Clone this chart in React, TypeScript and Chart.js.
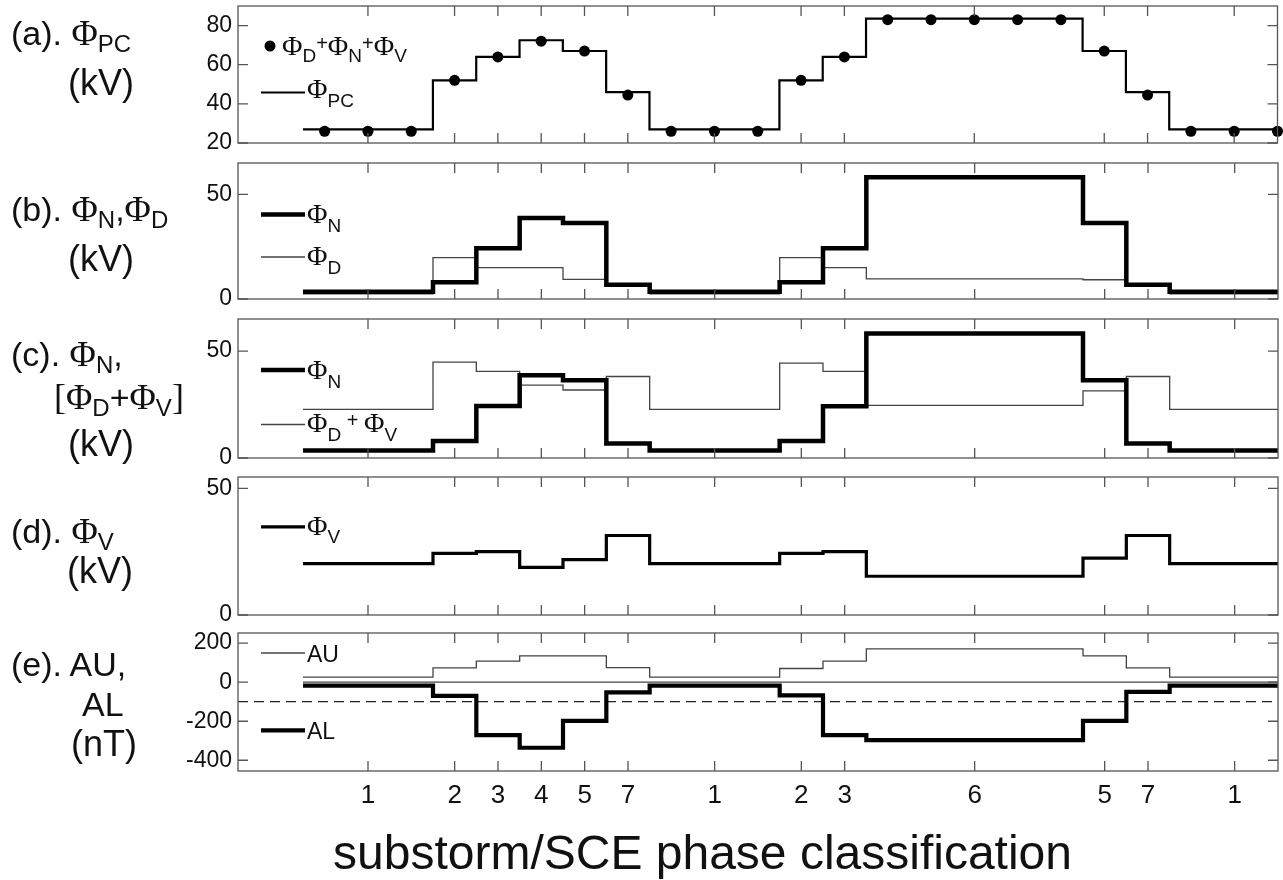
import React, { useEffect, useRef } from "react";
import { Chart, registerables } from "chart.js";
Chart.register(...registerables);

// ---------------- data ----------------
const X_MIN = -2;
const X_MAX = 22;

const phaseTickPositions = [1, 3, 4, 5, 6, 7, 9, 11, 12, 15, 18, 19, 21];
const phaseTickLabels = ["1", "2", "3", "4", "5", "7", "1", "2", "3", "6", "5", "7", "1"];

const phiPC = [27, 27, 27, 52, 64, 72.5, 67, 46, 27, 27, 27, 52, 64, 83.5, 83.5, 83.5, 83.5, 83.5, 67, 46, 27, 27, 27];
const phiSum = [26, 26, 26, 52, 64, 72, 67, 44.5, 26, 26, 26, 52, 64, 83, 83, 83, 83, 83, 67, 44.5, 26, 26, 26];
const phiN = [3.5, 3.5, 3.5, 8, 24.3, 38.7, 36.3, 6.8, 3.5, 3.5, 3.5, 8, 24.2, 58.2, 58.2, 58.2, 58.2, 58.2, 36.3, 6.8, 3.5, 3.5, 3.5];
const phiD = [2.5, 2.5, 2.5, 19.8, 15, 15, 9.4, 6.4, 2.5, 2.5, 2.5, 19.8, 15, 9.6, 9.6, 9.6, 9.6, 9.6, 9.2, 6.5, 2.5, 2.5, 2.5];
const phiDV = [22.7, 22.7, 22.7, 44.8, 40.5, 34.1, 31.8, 38.1, 22.7, 22.7, 22.7, 44.4, 40.5, 24.6, 24.6, 24.6, 24.6, 24.6, 31.4, 38.1, 22.7, 22.7, 22.7];
const phiV = [20.3, 20.3, 20.3, 24.3, 25, 18.8, 21.9, 31.4, 20.3, 20.3, 20.3, 24.3, 25, 15.3, 15.3, 15.3, 15.3, 15.3, 22.5, 31.4, 20.3, 20.3, 20.3];
const AU = [26, 26, 26, 73.5, 108, 135, 135, 75, 26, 26, 26, 70, 108, 171, 171, 171, 171, 171, 135, 73.5, 26, 26, 26];
const AL = [-18, -18, -18, -70, -271, -336, -198, -52, -18, -18, -18, -68, -271, -297, -297, -297, -297, -297, -198, -50, -18, -18, -18];
const AE_ZERO = 0;
const AL_THRESHOLD = -100;

const yTicksA = [20, 40, 60, 80];
const yTicksB = [0, 50];
const yTicksC = [0, 50];
const yTicksD = [0, 50];
const yTicksE = [-400, -200, 0, 200];

// ---------------- layout ----------------
const PAGE_W = 1283;
const PAGE_H = 880;
const PLOT_LEFT = 238;
const PLOT_RIGHT = 1278;
const PAD_TOP = 25;

const SANS = '"Liberation Sans", Arial, Helvetica, sans-serif';
const SERIF = '"Liberation Serif", "Times New Roman", serif';
const BOX_COLOR = "#555";
const THIN_COLOR = "#444";

const stepPoints = (arr: number[]) => [{ x: -0.5, y: arr[0] }, ...arr.map((y, i) => ({ x: i, y }))];
const dotPoints = (arr: number[]) => arr.map((y, i) => ({ x: i, y }));
const hLine = (y: number, x0: number, x1: number) => [{ x: x0, y }, { x: x1, y }];

const thick = (data: any[], w = 4.5) => ({ data, stepped: "middle", borderColor: "#000", borderWidth: w, pointRadius: 0, fill: false, clip: 6 });
const thin = (data: any[]) => ({ data, stepped: "middle", borderColor: THIN_COLOR, borderWidth: 1.3, pointRadius: 0, fill: false, clip: 6 });

type Run = { t: string; font: string; fs: number; cy: number };
type LegendItem = { marker: "dot" | "line"; mx0: number; mx1: number; my: number; mw: number; tx: number; runs: Run[] };

const PHI = (cy: number): Run => ({ t: "Φ", font: SERIF, fs: 28, cy });
const SUB = (t: string, cy: number): Run => ({ t, font: SANS, fs: 19, cy });
const TXT = (t: string, cy: number, fs = 20): Run => ({ t, font: SANS, fs, cy });

type PanelSpec = {
  key: string; top: number; bottom: number; yMin: number; yMax: number; yTicks: number[];
  showX: boolean; datasets: any[]; legend: LegendItem[];
};

const panels: PanelSpec[] = [
  {
    key: "a", top: 6, bottom: 143, yMin: 20, yMax: 90, yTicks: yTicksA, showX: false,
    datasets: [
      { data: dotPoints(phiSum), showLine: false, pointRadius: 5.5, pointBackgroundColor: "#000", pointBorderWidth: 0, clip: false },
      { data: stepPoints(phiPC), stepped: "middle", borderColor: "#000", borderWidth: 2.2, pointRadius: 0, fill: false, clip: 6 },
    ],
    legend: [
      { marker: "dot", mx0: 270, mx1: 270, my: 40, mw: 5.5, tx: 282,
        runs: [PHI(39), SUB("D", 49), TXT("+", 36.5), PHI(39), SUB("N", 49), TXT("+", 36.5), PHI(39), SUB("V", 49)] },
      { marker: "line", mx0: 261, mx1: 305, my: 86.5, mw: 2.2, tx: 307, runs: [PHI(82), SUB("PC", 94)] },
    ],
  },
  {
    key: "b", top: 163, bottom: 299, yMin: 0, yMax: 65, yTicks: yTicksB, showX: false,
    datasets: [thick(stepPoints(phiN)), thin(stepPoints(phiD))],
    legend: [
      { marker: "line", mx0: 261, mx1: 305, my: 51.4, mw: 4.5, tx: 307, runs: [PHI(50), SUB("N", 62)] },
      { marker: "line", mx0: 261, mx1: 305, my: 94, mw: 1.3, tx: 307, runs: [PHI(92), SUB("D", 104)] },
    ],
  },
  {
    key: "c", top: 319, bottom: 458, yMin: 0, yMax: 65, yTicks: yTicksC, showX: false,
    datasets: [thick(stepPoints(phiN)), thin(stepPoints(phiDV))],
    legend: [
      { marker: "line", mx0: 261, mx1: 305, my: 51, mw: 4.5, tx: 307, runs: [PHI(50), SUB("N", 62)] },
      { marker: "line", mx0: 261, mx1: 305, my: 105.5, mw: 1.3, tx: 307,
        runs: [PHI(103), SUB("D", 115), TXT(" + ", 101), PHI(103), SUB("V", 115)] },
    ],
  },
  {
    key: "d", top: 477, bottom: 615, yMin: 0, yMax: 54.5, yTicks: yTicksD, showX: false,
    datasets: [thick(stepPoints(phiV), 3.2)],
    legend: [
      { marker: "line", mx0: 261, mx1: 305, my: 49.8, mw: 3.2, tx: 307, runs: [PHI(48), SUB("V", 59)] },
    ],
  },
  {
    key: "e", top: 633, bottom: 771, yMin: -455, yMax: 252, yTicks: yTicksE, showX: true,
    datasets: [
      thick(stepPoints(AL), 4.2),
      thin(stepPoints(AU)),
      { data: hLine(AE_ZERO, -0.5, X_MAX), borderColor: THIN_COLOR, borderWidth: 1.3, pointRadius: 0, fill: false },
      { data: hLine(AL_THRESHOLD, X_MIN, X_MAX), borderColor: "#222", borderWidth: 1.3, borderDash: [10, 6], pointRadius: 0, fill: false },
    ],
    legend: [
      { marker: "line", mx0: 261, mx1: 305, my: 20, mw: 1.3, tx: 307, runs: [TXT("AU", 21, 23)] },
      { marker: "line", mx0: 261, mx1: 305, my: 97.4, mw: 4.2, tx: 307, runs: [TXT("AL", 98, 23)] },
    ],
  },
];

// ---------------- plugins ----------------
const boxPlugin = {
  id: "matlabBox",
  afterDraw(chart: any) {
    const { ctx, chartArea: a, scales } = chart;
    const xs = scales.x, ys = scales.y;
    const L = 10;
    ctx.save();
    ctx.strokeStyle = BOX_COLOR;
    ctx.lineWidth = 1.3;
    ctx.strokeRect(a.left, a.top, a.right - a.left, a.bottom - a.top);
    ctx.beginPath();
    xs.ticks.forEach((t: any) => {
      const px = xs.getPixelForValue(t.value);
      ctx.moveTo(px, a.top); ctx.lineTo(px, a.top + L);
      ctx.moveTo(px, a.bottom); ctx.lineTo(px, a.bottom - L);
    });
    ys.ticks.forEach((t: any) => {
      const py = ys.getPixelForValue(t.value);
      ctx.moveTo(a.left, py); ctx.lineTo(a.left + L, py);
      ctx.moveTo(a.right, py); ctx.lineTo(a.right - L, py);
    });
    ctx.stroke();
    ctx.restore();
  },
};

const makeLegendPlugin = (items: LegendItem[]) => ({
  id: "panelLegend",
  afterDraw(chart: any) {
    const { ctx, chartArea: a } = chart;
    ctx.save();
    items.forEach((it) => {
      const my = a.top + it.my;
      if (it.marker === "dot") {
        ctx.fillStyle = "#000";
        ctx.beginPath();
        ctx.arc(it.mx0, my, it.mw, 0, Math.PI * 2);
        ctx.fill();
      } else {
        ctx.strokeStyle = it.mw > 2 ? "#000" : THIN_COLOR;
        ctx.lineWidth = it.mw;
        ctx.beginPath();
        ctx.moveTo(it.mx0, my);
        ctx.lineTo(it.mx1, my);
        ctx.stroke();
      }
      let x = it.tx;
      ctx.fillStyle = "#111";
      ctx.textBaseline = "alphabetic";
      ctx.textAlign = "left";
      it.runs.forEach((r) => {
        ctx.font = `${r.fs}px ${r.font}`;
        ctx.fillText(r.t, x, a.top + r.cy + 0.35 * r.fs);
        x += ctx.measureText(r.t).width;
      });
    });
    ctx.restore();
  },
});

// ---------------- panel ----------------
function Panel({ spec }: { spec: PanelSpec }) {
  const ref = useRef<HTMLCanvasElement>(null);
  const padBottom = spec.showX ? 5 : 25;
  const xAxisH = spec.showX ? 40 : 0;
  const h = PAD_TOP + (spec.bottom - spec.top) + xAxisH + padBottom;

  useEffect(() => {
    if (!ref.current) return;
    const chart = new Chart(ref.current, {
      type: "line",
      data: { datasets: spec.datasets.map((d) => ({ ...d })) as any },
      options: {
        animation: false,
        responsive: false,
        maintainAspectRatio: false,
        devicePixelRatio: 1,
        events: [],
        layout: { padding: { left: 0, right: PAGE_W - PLOT_RIGHT, top: PAD_TOP, bottom: padBottom } },
        plugins: { legend: { display: false }, tooltip: { enabled: false } },
        scales: {
          x: {
            type: "linear",
            min: X_MIN,
            max: X_MAX,
            afterBuildTicks: (s: any) => { s.ticks = phaseTickPositions.map((v) => ({ value: v })); },
            afterFit: (s: any) => { s.height = xAxisH; },
            ticks: {
              display: spec.showX,
              autoSkip: false,
              maxRotation: 0,
              padding: 9,
              color: "#111",
              font: { family: SANS, size: 26 },
              callback: (v: any) => phaseTickLabels[phaseTickPositions.indexOf(Number(v))] ?? "",
            },
            grid: { display: false, drawTicks: false },
            border: { display: false },
          },
          y: {
            type: "linear",
            min: spec.yMin,
            max: spec.yMax,
            afterBuildTicks: (s: any) => { s.ticks = spec.yTicks.map((v) => ({ value: v })); },
            afterFit: (s: any) => { s.width = PLOT_LEFT; },
            ticks: {
              padding: 6,
              color: "#111",
              font: { family: SANS, size: 23 },
              callback: (v: any) => String(v),
            },
            grid: { display: false, drawTicks: false },
            border: { display: false },
          },
        },
      } as any,
      plugins: [boxPlugin, makeLegendPlugin(spec.legend)] as any,
    });
    return () => chart.destroy();
  }, []);

  return (
    <canvas
      ref={ref}
      width={PAGE_W}
      height={h}
      style={{ position: "absolute", left: 0, top: spec.top - PAD_TOP, width: PAGE_W, height: h }}
    />
  );
}

// ---------------- side labels ----------------
type Seg = { t: string; serif?: boolean; size: number; shift?: number };
const S = (t: string, size = 34): Seg => ({ t, size });
const F = (size = 36): Seg => ({ t: "Φ", serif: true, size });
const B = (t: string, size = 36): Seg => ({ t, serif: true, size });
const Sb = (t: string): Seg => ({ t, size: 24, shift: 7 });

const sideLabels: { x: number; y: number; segs: Seg[] }[] = [
  { x: 11, y: 45, segs: [S("(a). "), F(), Sb("PC")] },
  { x: 68, y: 95, segs: [S("(kV)", 36)] },
  { x: 11, y: 221, segs: [S("(b). "), F(), Sb("N"), S(","), F(), Sb("D")] },
  { x: 68, y: 271, segs: [S("(kV)", 36)] },
  { x: 11, y: 366, segs: [S("(c). "), F(), Sb("N"), S(",")] },
  { x: 54, y: 409, segs: [B("["), F(), Sb("D"), S("+"), F(), Sb("V"), B("]")] },
  { x: 68, y: 456, segs: [S("(kV)", 36)] },
  { x: 11, y: 543, segs: [S("(d). "), F(), Sb("V")] },
  { x: 67, y: 583, segs: [S("(kV)", 36)] },
  { x: 11, y: 676, segs: [S("(e). AU,")] },
  { x: 82, y: 716, segs: [S("AL")] },
  { x: 71, y: 756, segs: [S("(nT)", 36)] },
];

const X_TITLE = "substorm/SCE phase classification";

function Labels() {
  return (
    <svg
      width={PAGE_W}
      height={PAGE_H}
      style={{ position: "absolute", left: 0, top: 0, pointerEvents: "none" }}
    >
      {sideLabels.map((l, i) => {
        let prev = 0;
        return (
          <text key={i} x={l.x} y={l.y} fill="#111" style={{ whiteSpace: "pre" }}>
            {l.segs.map((s, j) => {
              const sh = s.shift ?? 0;
              const dy = sh - prev;
              prev = sh;
              return (
                <tspan key={j} dy={dy} fontFamily={s.serif ? SERIF : SANS} fontSize={s.size}>
                  {s.t}
                </tspan>
              );
            })}
          </text>
        );
      })}
      <text x={333} y={869} fontFamily={SANS} fontSize={48} fill="#111">
        {X_TITLE}
      </text>
    </svg>
  );
}

export default function App() {
  useEffect(() => {
    document.body.style.margin = "0";
    document.body.style.overflow = "hidden";
  }, []);
  return (
    <div style={{ position: "absolute", left: 0, top: 0, width: PAGE_W, height: PAGE_H, background: "#fff", overflow: "hidden" }}>
      {panels.map((p) => (
        <Panel key={p.key} spec={p} />
      ))}
      <Labels />
    </div>
  );
}
